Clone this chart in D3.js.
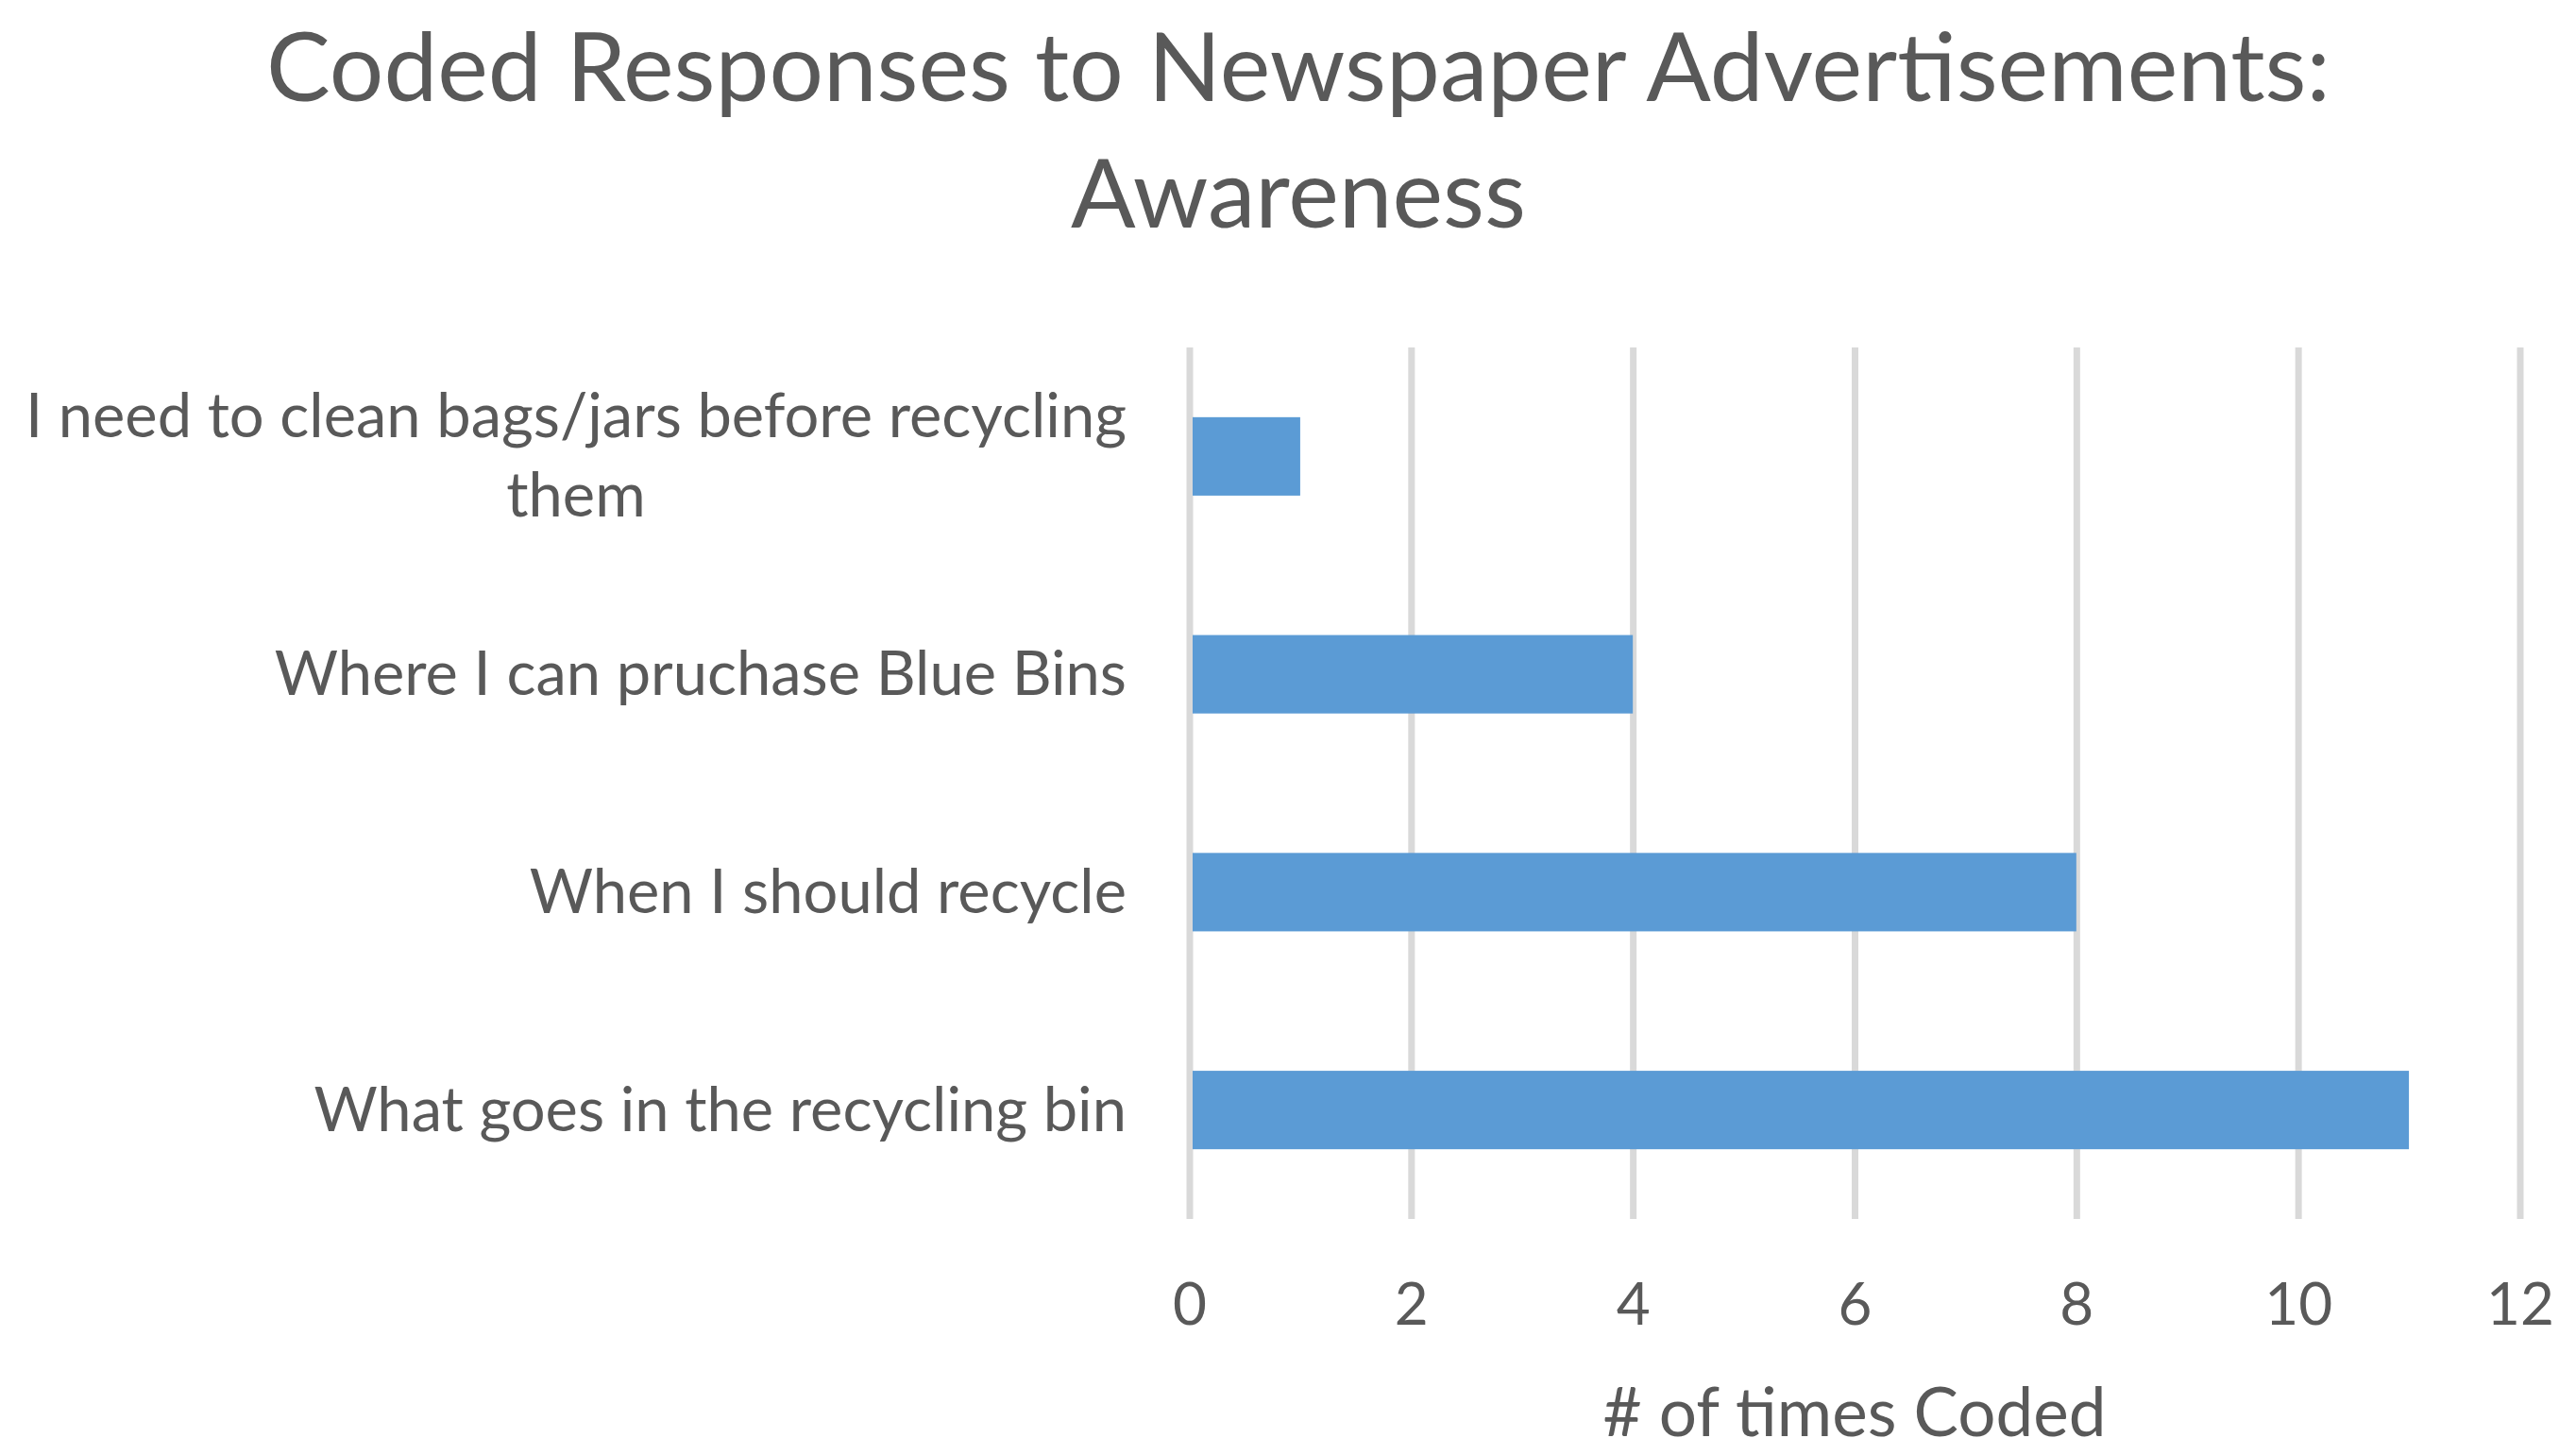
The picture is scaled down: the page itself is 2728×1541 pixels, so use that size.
<!DOCTYPE html>
<html>
<head>
<meta charset="utf-8">
<script src="https://cdn.jsdelivr.net/npm/d3@7"></script>
<style>
    body { margin: 0; background: #fff; }
    text { font-family: Lato, "Open Sans", sans-serif; fill: #595959; }
</style>
</head>
<body>
<svg id="chart"></svg>
<script>
// chart data
const categories = [
    'I need to clean bags/jars before recycling|them',
    'Where I can pruchase Blue Bins',
    'When I should recycle',
    'What goes in the recycling bin'
]
const counts = [1, 4, 8, 11]
const xTicks = [0, 2, 4, 6, 8, 10, 12]

const titleLines = ['Coded Responses to Newspaper Advertisements:', 'Awareness']
const xTitle = '# of times Coded'

const width = 2728
const height = 1541

const plot = {
    left: 1259.5,
    right: 2668.5,
    top: 368,
    bottom: 1291
}

const svg = d3.select('#chart')
    .attr('width', width)
    .attr('height', height)

const x = d3.scaleLinear()
    .domain([0, 12])
    .range([plot.left, plot.right])

const y = d3.scaleBand()
    .domain(categories)
    .range([plot.top, plot.bottom])
    .paddingInner(0.64)
    .paddingOuter(0.32)

// gridlines + tick labels
const axis = svg.append('g')
    .attr('class', 'x-axis')
    .attr('transform', `translate(0,${plot.bottom})`)
    .call(d3.axisBottom(x)
        .tickValues(xTicks)
        .tickSize(-(plot.bottom - plot.top))
        .tickFormat(d3.format('d')))

axis.select('.domain').remove()
axis.selectAll('.tick line')
    .attr('stroke', '#d9d9d9')
    .attr('stroke-width', 7)
axis.selectAll('.tick text')
    .attr('y', 112)
    .attr('dy', 0)
    .style('font-size', '62px')
    .style('font-family', 'Lato, sans-serif')
    .attr('fill', '#595959')

// bars
svg.append('g')
    .attr('class', 'bars')
    .selectAll('rect')
    .data(categories)
    .enter().append('rect')
    .attr('x', x(0) + 3.5)
    .attr('y', (d) => y(d))
    .attr('height', y.bandwidth())
    .attr('width', (d, i) => x(counts[i]) - x(0) - 3.5)
    .attr('fill', '#5b9bd5')

// category labels (wrapped ones are centred on each other, block right aligned)
const labelRight = 1193
const lineGap = 84

const labels = svg.append('g')
    .attr('class', 'labels')
    .selectAll('text')
    .data(categories)
    .enter().append('text')
    .style('font-size', '65px')
    .attr('text-anchor', 'middle')

labels.each(function(d) {
    const lines = d.split('|')
    const label = d3.select(this)
    const cy = y(d) + y.bandwidth() / 2
    const firstBaseline = cy + 22 - (lines.length - 1) * lineGap / 2

    const spans = lines.map((line, i) => {
        return label.append('tspan')
            .attr('y', firstBaseline + i * lineGap)
            .text(line)
    })

    const widest = d3.max(spans, (s) => s.node().getComputedTextLength())
    spans.forEach((s) => s.attr('x', labelRight - widest / 2))
})

// title
svg.append('text')
    .attr('class', 'title')
    .attr('text-anchor', 'middle')
    .style('font-size', '101.5px')
    .selectAll('tspan')
    .data(titleLines)
    .enter().append('tspan')
    .attr('x', 1375)
    .attr('y', (d, i) => 107 + i * 134)
    .text((d) => d)

// axis title
svg.append('text')
    .attr('class', 'axis-title')
    .attr('text-anchor', 'middle')
    .attr('x', (plot.left + plot.right) / 2)
    .attr('y', 1521)
    .style('font-size', '71px')
    .text(xTitle)
</script>
</body>
</html>
